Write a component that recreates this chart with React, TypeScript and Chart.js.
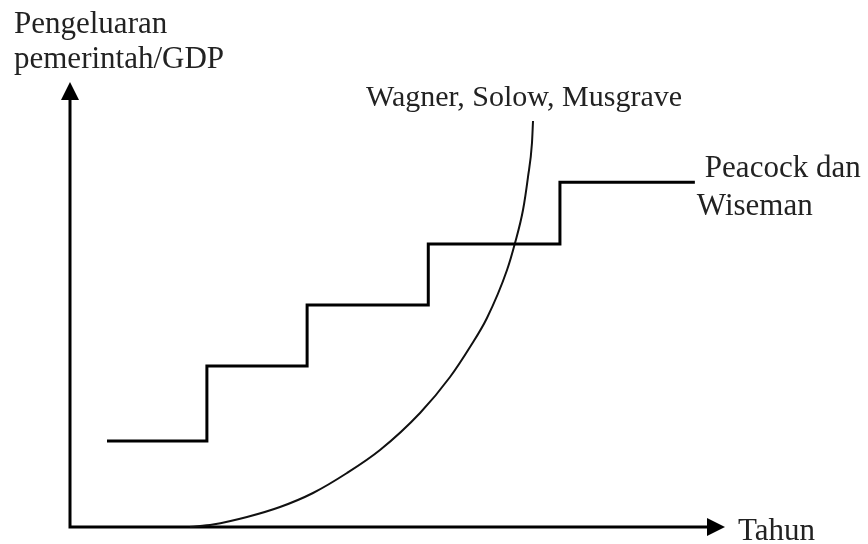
import React, { useEffect, useRef } from "react";
import { Chart, registerables } from "chart.js";

Chart.register(...registerables);

// ---- data ----
const yAxisLabel = ["Pengeluaran", "pemerintah/GDP"];
const xAxisLabel = "Tahun";
const stepSeriesName = ["Peacock dan", "Wiseman"];
const curveSeriesName = "Wagner, Solow, Musgrave";

// Peacock & Wiseman (step displacement) – x positions of each step, level after step
const stepX = [5.65, 20.9, 36.2, 54.7, 74.8, 95.4];
const stepY = [19.3, 36.2, 49.9, 63.6, 77.5, 77.5];

// Wagner, Solow, Musgrave (accelerating curve)
const curveX = [18.32, 21.83, 27.02, 32.06, 37.1, 42.29, 47.33, 53.44, 58.02, 61.07, 63.66, 66.72, 67.94, 69.16, 69.92, 70.53, 70.69];
const curveY = [0, 0.56, 2.25, 4.49, 7.64, 12.13, 17.3, 25.62, 33.71, 40.45, 46.97, 57.75, 63.82, 71.24, 78.65, 86.29, 91.24];

const FONT = '31px "Liberation Serif", "Times New Roman", serif';
const FONT_CURVE = '30px "Liberation Serif", "Times New Roman", serif';

const diagramPlugin = {
  id: "diagramDecor",
  beforeDatasetsDraw(chart: any) {
    const { ctx, chartArea } = chart;
    const { left, right, top, bottom } = chartArea;
    const ah = 18;
    const aw = 9;
    ctx.save();
    ctx.strokeStyle = "#000";
    ctx.fillStyle = "#000";
    ctx.lineWidth = 3;
    ctx.lineCap = "square";
    ctx.beginPath();
    ctx.moveTo(left, top + ah);
    ctx.lineTo(left, bottom);
    ctx.lineTo(right - ah, bottom);
    ctx.stroke();
    ctx.beginPath();
    ctx.moveTo(left, top);
    ctx.lineTo(left - aw, top + ah);
    ctx.lineTo(left + aw, top + ah);
    ctx.closePath();
    ctx.fill();
    ctx.beginPath();
    ctx.moveTo(right, bottom);
    ctx.lineTo(right - ah, bottom - aw);
    ctx.lineTo(right - ah, bottom + aw);
    ctx.closePath();
    ctx.fill();
    ctx.restore();
  },
  afterDraw(chart: any) {
    const { ctx, chartArea } = chart;
    const { left, right, top, bottom } = chartArea;
    ctx.save();
    ctx.fillStyle = "#222";
    ctx.font = FONT;
    ctx.textBaseline = "alphabetic";
    ctx.textAlign = "left";
    ctx.fillText(yAxisLabel[0], left - 56, top - 49);
    ctx.fillText(yAxisLabel[1], left - 56, top - 14);
    ctx.fillText(xAxisLabel, right + 13, bottom + 13);
    const stepMeta = chart.getDatasetMeta(0);
    const stepEnd = stepMeta.data[stepMeta.data.length - 1];
    ctx.fillText(stepSeriesName[0], stepEnd.x + 10, stepEnd.y - 5);
    ctx.fillText(stepSeriesName[1], stepEnd.x + 2, stepEnd.y + 33);
    const curveMeta = chart.getDatasetMeta(1);
    const curveEnd = curveMeta.data[curveMeta.data.length - 1];
    ctx.font = FONT_CURVE;
    ctx.textAlign = "center";
    ctx.fillText(curveSeriesName, curveEnd.x - 9, curveEnd.y - 15);
    ctx.restore();
  },
};

export default function App() {
  const ref = useRef<HTMLCanvasElement | null>(null);
  useEffect(() => {
    if (!ref.current) return;
    const chart = new Chart(ref.current, {
      type: "scatter",
      data: {
        datasets: [
          {
            label: stepSeriesName.join(" "),
            data: stepX.map((x, i) => ({ x, y: stepY[i] })),
            showLine: true,
            stepped: "before",
            borderColor: "#000",
            borderWidth: 3,
            pointRadius: 0,
            clip: false as any,
          },
          {
            label: curveSeriesName,
            data: curveX.map((x, i) => ({ x, y: curveY[i] })),
            showLine: true,
            cubicInterpolationMode: "monotone",
            borderColor: "#111",
            borderWidth: 2,
            pointRadius: 0,
            clip: false as any,
          },
        ],
      },
      options: {
        responsive: false,
        animation: false,
        devicePixelRatio: 1,
        layout: { padding: { left: 70, right: 143, top: 82, bottom: 17 } },
        plugins: { legend: { display: false }, tooltip: { enabled: false } },
        scales: {
          x: { type: "linear", min: 0, max: 100, display: false },
          y: { type: "linear", min: 0, max: 100, display: false },
        },
      },
      plugins: [diagramPlugin],
    });
    return () => chart.destroy();
  }, []);
  return (
    <div style={{ position: "absolute", left: 0, top: 0, width: 868, height: 544, background: "#fff" }}>
      <canvas ref={ref} width={868} height={544} />
    </div>
  );
}
